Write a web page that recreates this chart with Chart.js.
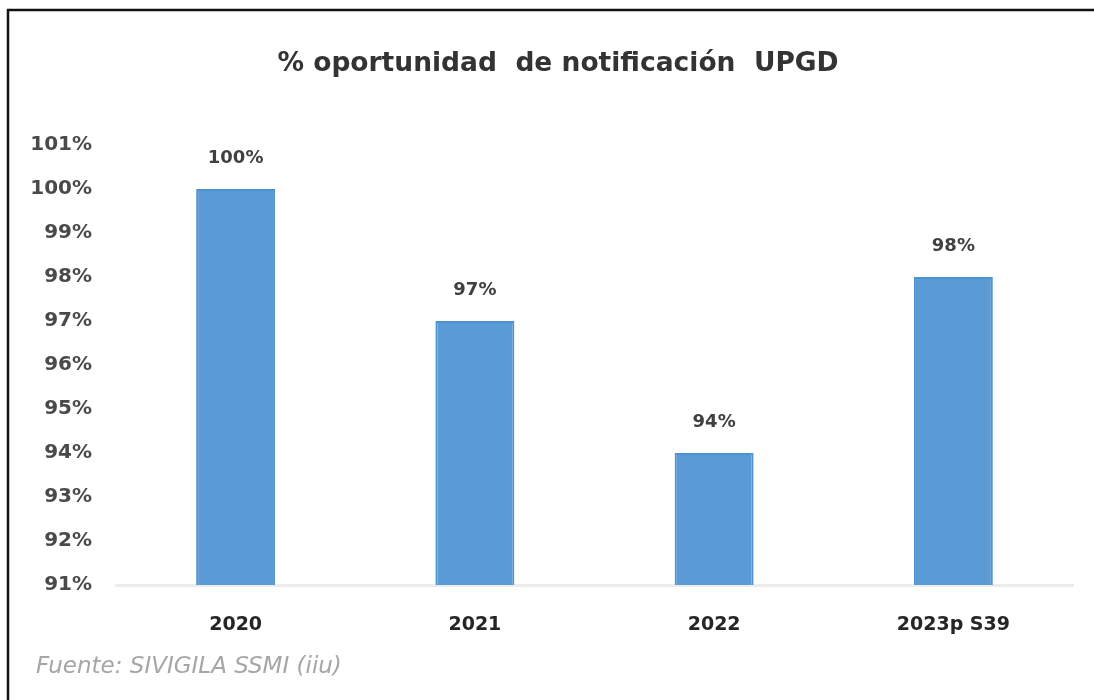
<!DOCTYPE html>
<html>
<head>
<meta charset="utf-8">
<script src="https://cdn.jsdelivr.net/npm/chart.js@4/dist/chart.umd.min.js"></script>
<style>
  html, body { margin: 0; padding: 0; background: #ffffff; }
  #wrap { width: 1094px; height: 700px; position: relative; }
</style>
</head>
<body>
<div id="wrap"><canvas id="c" width="1094" height="700"></canvas></div>
<script>
const chartTitle = '% oportunidad  de notificación  UPGD';
const sourceNote = 'Fuente: SIVIGILA SSMI (iiu)';
const categories = ['2020', '2021', '2022', '2023p S39'];
const values = [100, 97, 94, 98];
const valueLabels = ['100%', '97%', '94%', '98%'];
const yMin = 91;
const yMax = 101;
const yStep = 1;

const decorPlugin = {
  id: 'decor',
  beforeDraw(chart) {
    const ctx = chart.ctx;
    ctx.save();
    ctx.fillStyle = '#ffffff';
    ctx.fillRect(0, 0, chart.width, chart.height);
    ctx.restore();
  },
  afterDraw(chart) {
    const ctx = chart.ctx;
    ctx.save();
    // frame (top and left edges visible)
    ctx.strokeStyle = '#111111';
    ctx.lineWidth = 2.5;
    ctx.beginPath();
    ctx.moveTo(1094, 10);
    ctx.lineTo(8, 10);
    ctx.lineTo(8, 700);
    ctx.stroke();
    // title
    ctx.fillStyle = '#333333';
    ctx.font = 'bold 26.5px "DejaVu Sans"';
    ctx.textAlign = 'center';
    ctx.textBaseline = 'middle';
    ctx.fillText(chartTitle, 558, 64);
    // source note
    ctx.fillStyle = '#a6a6a6';
    ctx.font = 'italic 23px "DejaVu Sans"';
    ctx.textAlign = 'left';
    ctx.fillText(sourceNote, 36, 667);
    ctx.restore();
  },
  afterDatasetsDraw(chart) {
    const ctx = chart.ctx;
    const meta = chart.getDatasetMeta(0);
    ctx.save();
    ctx.fillStyle = '#404040';
    ctx.font = 'bold 18px "DejaVu Sans"';
    ctx.textAlign = 'center';
    ctx.textBaseline = 'middle';
    meta.data.forEach((bar, i) => {
      ctx.fillText(valueLabels[i], bar.x, bar.y - 31);
    });
    ctx.restore();
  }
};

new Chart(document.getElementById('c'), {
  type: 'bar',
  data: {
    labels: categories,
    datasets: [{
      data: values,
      backgroundColor: '#5b9bd5',
      borderColor: '#4f92d1',
      borderWidth: 2,
      categoryPercentage: 1.0,
      barPercentage: 0.33
    }]
  },
  options: {
    responsive: false,
    animation: false,
    layout: { padding: { left: 8, right: 21, top: 145, bottom: 55 } },
    plugins: {
      legend: { display: false },
      title: { display: false },
      tooltip: { enabled: false }
    },
    scales: {
      x: {
        grid: { display: false, drawTicks: false },
        border: { display: true, color: '#ececec', width: 3 },
        ticks: {
          color: '#262626',
          font: { family: '"DejaVu Sans"', size: 19, weight: 'bold' },
          padding: 29
        },
        afterFit(scale) { scale.height = 60; }
      },
      y: {
        min: yMin,
        max: yMax,
        grid: { display: false, drawTicks: false },
        border: { display: false },
        ticks: {
          stepSize: yStep,
          color: '#4a4a4a',
          font: { family: '"DejaVu Sans"', size: 20, weight: 'bold' },
          padding: 24,
          callback: (v) => v + '%'
        },
        afterFit(scale) { scale.width = 108; }
      }
    }
  },
  plugins: [decorPlugin]
});
</script>
</body>
</html>
